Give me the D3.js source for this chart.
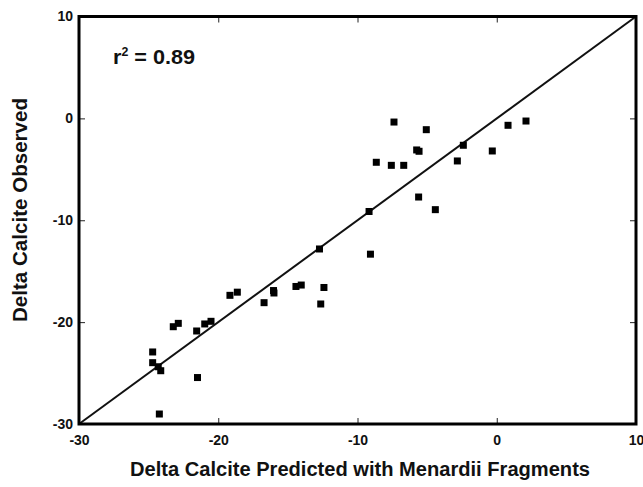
<!DOCTYPE html>
<html>
<head>
<meta charset="utf-8">
<script src="https://cdn.jsdelivr.net/npm/d3@7"></script>
<style>
  body { margin: 0; background: #fff; }
  text { font-family: "Liberation Sans", Arial, sans-serif; font-weight: bold; fill: #111; }
</style>
</head>
<body>
<div id="chart"></div>
<script>
// Data
const predicted = [
  -24.71, -24.71, -24.31, -24.13, -24.23, -23.23, -22.87, -21.55, -21.49, -20.97,
  -20.52, -19.16, -18.63, -16.71, -16.03, -16.00, -14.42, -14.04, -12.64, -12.41,
  -12.73, -9.17, -9.07, -8.65, -7.57, -7.38, -6.68, -5.75, -5.58, -5.61,
  -5.06, -4.41, -2.83, -2.40, -0.32, 0.81, 2.10
];
const observed = [
  -22.93, -23.98, -24.38, -24.77, -29.02, -20.45, -20.12, -20.87, -25.44, -20.18,
  -19.92, -17.37, -17.06, -18.09, -16.90, -17.14, -16.50, -16.36, -18.22, -16.60,
  -12.82, -9.14, -13.33, -4.31, -4.61, -0.36, -4.61, -3.10, -3.23, -7.72,
  -1.11, -8.96, -4.18, -2.64, -3.20, -0.68, -0.26
];
const tickValues = [-30, -20, -10, 0, 10];
const oneToOne = [-30, 10];
const rSquared = "0.89";
const xTitle = "Delta Calcite Predicted with Menardii Fragments";
const yTitle = "Delta Calcite Observed";

const w = 643;
const h = 487;
const margin = { left: 79, right: 7, top: 16.5, bottom: 63 };

const xScale = d3.scaleLinear().domain([-30, 10]).range([margin.left, w - margin.right]);
const yScale = d3.scaleLinear().domain([-30, 10]).range([h - margin.bottom, margin.top]);

// plain hyphen for negatives, like the original
const tickFormat = d => String(d);

const svg = d3.select("#chart")
  .append("svg")
  .attr("width", w)
  .attr("height", h);

// 1:1 line
svg.append("line")
  .attr("x1", xScale(oneToOne[0]))
  .attr("y1", yScale(oneToOne[0]))
  .attr("x2", xScale(oneToOne[1]))
  .attr("y2", yScale(oneToOne[1]))
  .attr("stroke", "#111")
  .attr("stroke-width", 2);

// points
const pts = predicted.map((p, i) => ({ x: p, y: observed[i] }));
const size = 7;
svg.selectAll("rect.pt")
  .data(pts)
  .enter()
  .append("rect")
  .attr("class", "pt")
  .attr("x", d => xScale(d.x) - size / 2)
  .attr("y", d => yScale(d.y) - size / 2)
  .attr("width", size)
  .attr("height", size)
  .attr("fill", "#000");

// axes, ticks pointing inside
const inner = tickValues.slice(1, -1);
const styleAxis = g => {
  g.select(".domain").remove();
  g.selectAll(".tick line").attr("stroke", "#222").attr("stroke-width", 1);
};

svg.append("g")
  .attr("transform", "translate(0," + yScale(-30) + ")")
  .call(d3.axisBottom(xScale).tickValues(tickValues).tickSize(-6).tickPadding(8).tickFormat(tickFormat))
  .call(styleAxis)
  .call(g => g.selectAll(".tick text").attr("font-size", 14).attr("dy", "0.9em"))
  .call(g => g.selectAll(".tick line").filter(d => !inner.includes(d)).remove());

svg.append("g")
  .attr("transform", "translate(" + xScale(-30) + ",0)")
  .call(d3.axisLeft(yScale).tickValues(tickValues).tickSize(-6).tickPadding(6).tickFormat(tickFormat))
  .call(styleAxis)
  .call(g => g.selectAll(".tick text").attr("font-size", 14).attr("x", -6))
  .call(g => g.selectAll(".tick line").filter(d => !inner.includes(d)).remove());

svg.append("g")
  .attr("transform", "translate(0," + yScale(10) + ")")
  .call(d3.axisTop(xScale).tickValues(inner).tickSize(-6).tickFormat(""))
  .call(styleAxis);

svg.append("g")
  .attr("transform", "translate(" + xScale(10) + ",0)")
  .call(d3.axisRight(yScale).tickValues(inner).tickSize(-6).tickFormat(""))
  .call(styleAxis);

// frame
svg.append("rect")
  .attr("x", xScale(-30))
  .attr("y", yScale(10))
  .attr("width", xScale(10) - xScale(-30))
  .attr("height", yScale(-30) - yScale(10))
  .attr("fill", "none")
  .attr("stroke", "#000")
  .attr("stroke-width", 3);

// r² label
const r2 = svg.append("text")
  .attr("x", 113)
  .attr("y", 64)
  .attr("font-size", 21)
  .attr("textLength", 82)
  .attr("lengthAdjust", "spacingAndGlyphs");
r2.append("tspan").text("r");
r2.append("tspan").attr("font-size", 12).attr("dy", -8).text("2");
r2.append("tspan").attr("dy", 8).text(" = " + rSquared);

// titles
svg.append("text")
  .attr("x", 360)
  .attr("y", 476)
  .attr("text-anchor", "middle")
  .attr("font-size", 20)
  .attr("textLength", 460)
  .attr("lengthAdjust", "spacingAndGlyphs")
  .text(xTitle);

svg.append("text")
  .attr("transform", "translate(27,210) rotate(-90)")
  .attr("text-anchor", "middle")
  .attr("font-size", 20)
  .attr("textLength", 224)
  .attr("lengthAdjust", "spacingAndGlyphs")
  .text(yTitle);
</script>
</body>
</html>
